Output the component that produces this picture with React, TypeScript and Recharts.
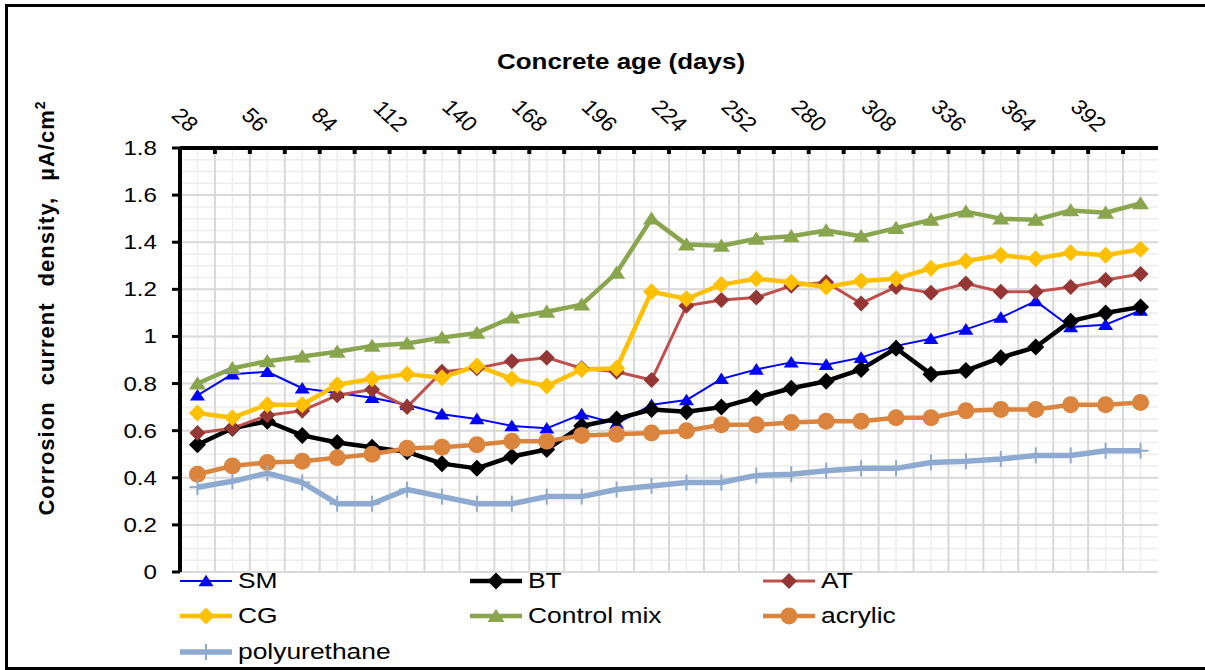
import React from 'react';
import { LineChart, Line, XAxis, YAxis, CartesianGrid, Legend } from 'recharts';

// concrete age categories (days)
const days = [28, 42, 56, 70, 84, 98, 112, 126, 140, 154, 168, 182, 196, 210, 224, 238, 252, 266, 280, 294, 308, 322, 336, 350, 364, 378, 392, 406];
const labelDays = [28, 56, 84, 112, 140, 168, 196, 224, 252, 280, 308, 336, 364, 392];
const yTicks = [0, 0.2, 0.4, 0.6, 0.8, 1, 1.2, 1.4, 1.6, 1.8];

// corrosion current density, uA/cm2
const sm = [0.75, 0.84, 0.85, 0.78, 0.76, 0.74, 0.71, 0.67, 0.65, 0.62, 0.61, 0.67, 0.63, 0.71, 0.73, 0.82, 0.86, 0.89, 0.88, 0.91, 0.96, 0.99, 1.03, 1.08, 1.15, 1.04, 1.05, 1.11];
const bt = [0.54, 0.61, 0.64, 0.58, 0.55, 0.53, 0.51, 0.46, 0.44, 0.49, 0.52, 0.62, 0.65, 0.69, 0.68, 0.7, 0.74, 0.78, 0.81, 0.86, 0.95, 0.84, 0.855, 0.91, 0.955, 1.065, 1.1, 1.125];
const at = [0.59, 0.61, 0.665, 0.685, 0.75, 0.775, 0.7, 0.85, 0.865, 0.895, 0.91, 0.865, 0.85, 0.815, 1.13, 1.155, 1.165, 1.215, 1.23, 1.14, 1.21, 1.185, 1.225, 1.19, 1.19, 1.21, 1.24, 1.265];
const cg = [0.675, 0.655, 0.71, 0.71, 0.795, 0.82, 0.84, 0.825, 0.875, 0.82, 0.79, 0.86, 0.865, 1.19, 1.16, 1.22, 1.245, 1.23, 1.21, 1.235, 1.245, 1.29, 1.32, 1.345, 1.33, 1.355, 1.345, 1.37];
const controlMix = [0.8, 0.865, 0.895, 0.915, 0.935, 0.96, 0.97, 0.995, 1.015, 1.08, 1.105, 1.135, 1.27, 1.5, 1.39, 1.385, 1.415, 1.425, 1.45, 1.425, 1.46, 1.495, 1.53, 1.5, 1.495, 1.535, 1.525, 1.565];
const acrylic = [0.415, 0.45, 0.465, 0.47, 0.485, 0.5, 0.525, 0.53, 0.54, 0.555, 0.555, 0.58, 0.585, 0.59, 0.6, 0.625, 0.625, 0.635, 0.64, 0.64, 0.655, 0.655, 0.685, 0.69, 0.69, 0.71, 0.71, 0.72];
const polyurethane = [0.36, 0.385, 0.42, 0.38, 0.29, 0.29, 0.35, 0.32, 0.29, 0.29, 0.32, 0.32, 0.35, 0.365, 0.38, 0.38, 0.41, 0.415, 0.43, 0.44, 0.44, 0.465, 0.47, 0.48, 0.495, 0.495, 0.515, 0.515];

const data = days.map((day, i) => ({
  day,
  sm: sm[i],
  bt: bt[i],
  at: at[i],
  cg: cg[i],
  control: controlMix[i],
  acrylic: acrylic[i],
  poly: polyurethane[i],
}));

const series = [
  { key: 'sm', name: 'SM', color: '#0000ff', width: 2, kind: 'triangle', fill: '#0000ff', size: 7.5 },
  { key: 'bt', name: 'BT', color: '#000000', width: 4.5, kind: 'diamond', fill: '#000000', size: 8.5 },
  { key: 'at', name: 'AT', color: '#c0504d', width: 3, kind: 'diamond', fill: '#943634', size: 8 },
  { key: 'cg', name: 'CG', color: '#ffc000', width: 4.5, kind: 'diamond', fill: '#ffc000', size: 8.5 },
  { key: 'control', name: 'Control mix', color: '#89a54e', width: 4.5, kind: 'triangle', fill: '#89a54e', size: 8.5 },
  { key: 'acrylic', name: 'acrylic', color: '#db843d', width: 4.5, kind: 'circle', fill: '#db843d', size: 8.5 },
  { key: 'poly', name: 'polyurethane', color: '#8eaad0', width: 5.5, kind: 'plus', fill: '#8eaad0', size: 8 },
];

const FONT = '"Liberation Sans", Arial, sans-serif';

// grid helpers (category boundaries, minor y lines)
const boundaries = days.slice(0, -1).map((d) => d + 7);
const minorY = Array.from({ length: 37 }, (_, i) => Math.round(i * 5) / 100);

function Marker({ kind, cx, cy, fill, size }: any) {
  if (cx == null || cy == null) return null;
  if (kind === 'triangle') {
    const w = size;
    return <polygon points={`${cx},${cy - w * 0.85} ${cx + w},${cy + w * 0.7} ${cx - w},${cy + w * 0.7}`} fill={fill} />;
  }
  if (kind === 'diamond') {
    return <polygon points={`${cx},${cy - size} ${cx + size},${cy} ${cx},${cy + size} ${cx - size},${cy}`} fill={fill} />;
  }
  if (kind === 'circle') {
    return <circle cx={cx} cy={cy} r={size} fill={fill} />;
  }
  return (
    <g stroke={fill} strokeWidth={2}>
      <line x1={cx} y1={cy - size} x2={cx} y2={cy + size} />
      <line x1={cx - size} y1={cy} x2={cx + size} y2={cy} />
    </g>
  );
}

const TopTick = (props: any) => {
  const { x, y, payload } = props;
  const v = payload.value;
  if (labelDays.includes(v)) {
    const ax = x - 9;
    const ay = y - 15;
    return (
      <text
        x={ax}
        y={ay}
        textAnchor="end"
        fontSize={21}
        fontFamily={FONT}
        fill="#000"
        transform={`translate(${ax} ${ay}) scale(1.1 1) rotate(45) translate(${-ax} ${-ay})`}
      >
        {v}
      </text>
    );
  }
  return <line x1={x} y1={y} x2={x} y2={y + 6} stroke="#000" strokeWidth={4} />;
};

const LeftTick = (props: any) => {
  const { x, y, payload } = props;
  return (
    <text
      x={x}
      y={y}
      textAnchor="end"
      dominantBaseline="central"
      fontSize={21}
      fontFamily={FONT}
      fill="#000"
      transform={`translate(${x} ${y}) scale(1.15 1) translate(${-x} ${-y})`}
    >
      {String(parseFloat(Number(payload.value).toFixed(1)))}
    </text>
  );
};

const renderLegend = () => (
  <div style={{ display: 'grid', gridTemplateColumns: '290px 293px 300px', fontFamily: FONT, fontSize: 22, color: '#000' }}>
    {series.map((s) => (
      <div key={s.key} style={{ display: 'flex', alignItems: 'center', height: 35.5 }}>
        <svg width={56} height={24} style={{ overflow: 'visible' }}>
          <line x1={0} y1={12} x2={52} y2={12} stroke={s.color} strokeWidth={s.width} />
          <Marker kind={s.kind} cx={26} cy={12} fill={s.fill} size={s.size} />
        </svg>
        <span style={{ display: 'inline-block', marginLeft: 2, transform: 'scaleX(1.2)', transformOrigin: 'left center', whiteSpace: 'nowrap' }}>
          {s.name}
        </span>
      </div>
    ))}
  </div>
);

export default function App() {
  return (
    <div style={{ position: 'absolute', left: 0, top: 0, width: 1205, height: 670, overflow: 'hidden', background: '#fff' }}>
      <div style={{ position: 'absolute', left: 5, top: 4, width: 1215, height: 666, border: '3px solid #000', boxSizing: 'border-box' }} />
      <LineChart width={1205} height={670} data={data} margin={{ top: 100, right: 47, bottom: 98, left: 100 }}>
        <CartesianGrid stroke="#eeeeee" strokeWidth={1.5} horizontalValues={minorY} verticalValues={days} />
        <CartesianGrid stroke="#d9d9d9" strokeWidth={2} horizontalValues={yTicks} verticalValues={boundaries} />
        <XAxis
          dataKey="day"
          type="number"
          orientation="top"
          domain={[21, 413]}
          ticks={[...labelDays, ...boundaries].sort((a, b) => a - b)}
          interval={0}
          height={48}
          tickLine={false}
          tickSize={0}
          tickMargin={0}
          tick={TopTick}
          axisLine={{ stroke: '#000', strokeWidth: 4 }}
        />
        <XAxis xAxisId="bottom" type="number" orientation="bottom" domain={[21, 413]} height={0} tick={false} tickLine={false} axisLine={{ stroke: '#000', strokeWidth: 4 }} />
        <YAxis
          type="number"
          domain={[0, 1.8]}
          ticks={yTicks}
          interval={0}
          width={80}
          tickSize={8}
          tickMargin={15}
          tickLine={{ stroke: '#000', strokeWidth: 3 }}
          tick={LeftTick}
          axisLine={{ stroke: '#000', strokeWidth: 4 }}
        />
        <YAxis yAxisId="right" orientation="right" type="number" domain={[0, 1.8]} width={0} tick={false} tickLine={false} axisLine={{ stroke: '#000', strokeWidth: 4 }} />
        <Legend content={renderLegend} verticalAlign="middle" align="center" layout="horizontal" wrapperStyle={{ left: 180, top: 563, width: 900 }} />
        {series.map((s) => (
          <Line
            key={s.key}
            type="linear"
            dataKey={s.key}
            name={s.name}
            stroke={s.color}
            strokeWidth={s.width}
            strokeLinejoin="round"
            dot={(p: any) => <Marker key={`${s.key}-${p.index}`} kind={s.kind} cx={p.cx} cy={p.cy} fill={s.fill} size={s.size} />}
            activeDot={false}
            isAnimationActive={false}
          />
        ))}
      </LineChart>
      <div style={{ position: 'absolute', left: 621, top: 62, transform: 'translate(-50%, -50%) scaleX(1.18)', fontFamily: FONT, fontWeight: 'bold', fontSize: 22, whiteSpace: 'nowrap' }}>
        Concrete age (days)
      </div>
      <div style={{ position: 'absolute', left: 46, top: 308, transform: 'translate(-50%, -50%) rotate(-90deg)', fontFamily: FONT, fontWeight: 'bold', fontSize: 22, letterSpacing: 1, wordSpacing: 9, whiteSpace: 'nowrap' }}>
        Corrosion current density, µA/cm<sup style={{ fontSize: 14 }}>2</sup>
      </div>
    </div>
  );
}
